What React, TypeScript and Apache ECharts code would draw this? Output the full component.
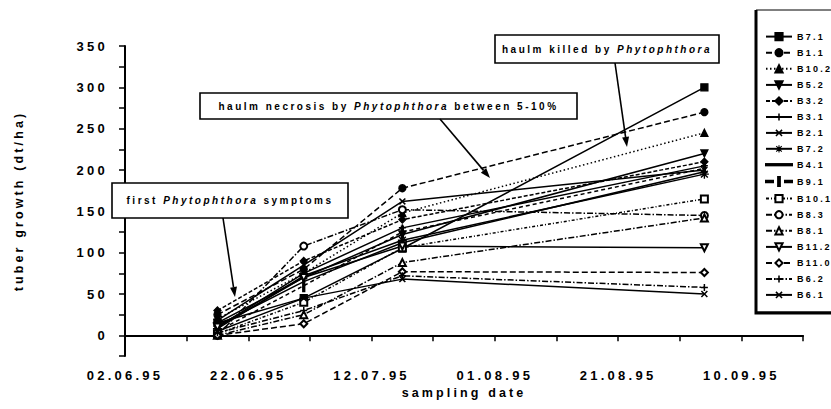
import React, { useEffect, useRef } from 'react';
import * as echarts from 'echarts';

// ---- tick labels / categories ----
const xTickLabels = ['02.06.95', '22.06.95', '12.07.95', '01.08.95', '21.08.95', '10.09.95'];
const samplingDates = ['17.06.95', '01.07.95', '17.07.95', '04.09.95'];

// ---- series values (dt/ha) at each sampling date ----
const b7_1 = [15, 45, 105, 300];
const b1_1 = [25, 80, 178, 270];
const b10_2 = [20, 75, 148, 245];
const b5_2 = [15, 70, 122, 220];
const b3_2 = [30, 90, 140, 210];
const b3_1 = [10, 75, 130, 205];
const b2_1 = [18, 85, 162, 200];
const b7_2 = [8, 72, 115, 195];
const b4_1 = [12, 65, 112, 198];
const b9_1 = [5, 60, 125, 202];
const b10_1 = [2, 40, 106, 165];
const b8_3 = [0, 108, 152, 145];
const b8_1 = [0, 25, 88, 142];
const b11_2 = [10, 70, 108, 106];
const b11_0 = [0, 14, 77, 76];
const b6_2 = [3, 30, 72, 58];
const b6_1 = [5, 45, 68, 50];

const PLUS = 'path://M3.15,0H4.85V3.15H8V4.85H4.85V8H3.15V4.85H0V3.15H3.15Z';
const CROSS = 'path://M0,1.2L1.2,0L4,2.8L6.8,0L8,1.2L5.2,4L8,6.8L6.8,8L4,5.2L1.2,8L0,6.8L2.8,4Z';
const STAR = 'path://M3.4,0H4.6V3.4H8V4.6H4.6V8H3.4V4.6H0V3.4H3.4ZM0.5,1.4L1.4,0.5L4,3.1L6.6,0.5L7.5,1.4L4.9,4L7.5,6.6L6.6,7.5L4,4.9L1.4,7.5L0.5,6.6L3.1,4Z';
const LINE_ICON = 'path://M0,0H30V1.5H0Z';
const BAR_ICON = 'path://M0,3.75H7V5.25H0ZM12.1,0H13.9V9H12.1ZM19,3.75H26V5.25H19Z';

const DASH = [6, 3];
const DOT = [1.5, 2.5];
const DASHDOT = [6, 2, 1.5, 2];
const DOTDASH = [3, 2, 1, 2];

const seriesDefs = [
  { name: 'B7.1', values: b7_1, symbol: 'rect', line: 'solid' as any },
  { name: 'B1.1', values: b1_1, symbol: 'circle', line: DASH },
  { name: 'B10.2', values: b10_2, symbol: 'triangle', line: DOT },
  { name: 'B5.2', values: b5_2, symbol: 'triangle', rotate: 180, line: 'solid' },
  { name: 'B3.2', values: b3_2, symbol: 'diamond', line: [4, 2] },
  { name: 'B3.1', values: b3_1, symbol: PLUS, path: true, line: 'solid' },
  { name: 'B2.1', values: b2_1, symbol: CROSS, path: true, line: 'solid' },
  { name: 'B7.2', values: b7_2, symbol: STAR, path: true, size: 9, line: 'solid' },
  { name: 'B4.1', values: b4_1, symbol: 'none', icon: LINE_ICON, line: 'solid' },
  { name: 'B9.1', values: b9_1, symbol: 'rect', size: [2, 8], icon: BAR_ICON, line: [4, 3] },
  { name: 'B10.1', values: b10_1, symbol: 'emptyRect', line: DOTDASH },
  { name: 'B8.3', values: b8_3, symbol: 'emptyCircle', line: DASHDOT },
  { name: 'B8.1', values: b8_1, symbol: 'emptyTriangle', line: DASHDOT },
  { name: 'B11.2', values: b11_2, symbol: 'emptyTriangle', rotate: 180, line: 'solid' },
  { name: 'B11.0', values: b11_0, symbol: 'emptyDiamond', line: DASH },
  { name: 'B6.2', values: b6_2, symbol: PLUS, path: true, line: DASHDOT },
  { name: 'B6.1', values: b6_1, symbol: CROSS, path: true, line: 'solid' },
];

const LS = 0.25; // letter spacing in em
const FONT = '"Liberation Sans", Arial, Helvetica, sans-serif';

function dayOf(s: string) {
  const [d, m, y] = s.split('.').map(Number);
  return Date.UTC(1900 + y, m - 1, d) / 86400000;
}
const origin = dayOf(xTickLabels[0]);
const sampleDays = samplingDates.map((s) => dayOf(s) - origin);

function arrow(x1: number, y1: number, x2: number, y2: number) {
  const dx = x2 - x1, dy = y2 - y1;
  const len = Math.sqrt(dx * dx + dy * dy);
  const ux = dx / len, uy = dy / len;
  const bx = x2 - ux * 10, by = y2 - uy * 10;
  const px = -uy * 3.5, py = ux * 3.5;
  return [
    { type: 'line', z: 100, shape: { x1, y1, x2: bx, y2: by }, style: { stroke: '#000', lineWidth: 1.6 } },
    { type: 'polygon', z: 100, shape: { points: [[x2, y2], [bx + px, by + py], [bx - px, by - py]] }, style: { fill: '#000' } },
  ];
}

function box(x: number, y: number, w: number, h: number, parts: string[]) {
  return [
    { type: 'rect', z: 100, shape: { x, y, width: w, height: h }, style: { fill: '#fff', stroke: '#000', lineWidth: 1.6 } },
    {
      type: 'text', z: 101, x: x + w / 2, y: y + h / 2,
      style: {
        text: parts[2] ? `{n|${parts[0]}}{i|${parts[1]}}{n|${parts[2]}}` : `{n|${parts[0]}}{i|${parts[1]}}`,
        align: 'center', verticalAlign: 'middle',
        rich: {
          n: { fontSize: 10, fontWeight: 'bold', fontFamily: FONT, fill: '#000' },
          i: { fontSize: 10, fontWeight: 'bold', fontFamily: FONT, fontStyle: 'italic', fill: '#000' },
        },
      },
    },
  ];
}

export default function App() {
  const ref = useRef<HTMLDivElement>(null);
  useEffect(() => {
    const canvas = document.createElement('canvas');
    const ctx = canvas.getContext('2d');
    const setApi = (echarts as any).setPlatformAPI;
    if (typeof setApi === 'function' && ctx) {
      setApi({
        measureText(text: string, font?: string) {
          ctx.font = font || '12px sans-serif';
          const w = ctx.measureText(text).width;
          if (text === '国') return { width: w };
          const m = /([\d.]+)px/.exec(font || '12px');
          const size = m ? parseFloat(m[1]) : 12;
          return { width: w + LS * size * text.length };
        },
      });
    }
    const chart = echarts.init(ref.current!, null, { renderer: 'svg' });
    const series = seriesDefs.map((d: any) => ({
      name: d.name,
      type: 'line',
      data: sampleDays.map((x, i) => [x, d.values[i]]),
      symbol: d.symbol,
      symbolSize: d.size || 7,
      symbolKeepAspect: true,
      symbolRotate: d.rotate || 0,
      showSymbol: d.symbol !== 'none',
      lineStyle: { color: '#000', width: 1.5, type: d.line },
      itemStyle: { color: '#000', borderColor: '#000', borderWidth: d.path ? 0 : 1.3 },
      emphasis: { disabled: true },
      z: 3,
    }));
    chart.setOption({
      animation: false,
      backgroundColor: '#fff',
      textStyle: { fontFamily: FONT, color: '#000' },
      grid: { left: 125, right: 28, top: 46, bottom: 53, containLabel: false, outerBoundsMode: 'none' },
      xAxis: {
        type: 'value', min: 0, max: 110, interval: 10,
        name: 'sampling date', nameLocation: 'middle', nameGap: 29,
        nameTextStyle: { fontSize: 12.5, fontWeight: 'bold', fontFamily: FONT, color: '#000' },
        axisLine: { lineStyle: { color: '#000', width: 2 } },
        axisTick: { length: 6, lineStyle: { color: '#000', width: 1.5 } },
        axisLabel: {
          margin: 13, fontSize: 13, fontWeight: 'bold', fontFamily: FONT, color: '#000',
          formatter: (v: number) => (v % 20 === 0 ? xTickLabels[v / 20] || '' : ''),
        },
        splitLine: { show: false },
      },
      yAxis: {
        type: 'value', min: -25, max: 350, interval: 25,
        name: 'tuber growth (dt/ha)', nameLocation: 'middle', nameGap: 100,
        nameTextStyle: { fontSize: 12.5, fontWeight: 'bold', fontFamily: FONT, color: '#000' },
        axisLine: { lineStyle: { color: '#000', width: 2 } },
        axisTick: { length: 6, lineStyle: { color: '#000', width: 1.5 } },
        axisLabel: {
          margin: 17, fontSize: 13, fontWeight: 'bold', fontFamily: FONT, color: '#000',
          formatter: (v: number) => (v >= 0 && v % 50 === 0 ? String(v) : ''),
        },
        splitLine: { show: false },
      },
      legend: {
        orient: 'vertical', left: 760, top: 27,
        itemWidth: 26, itemHeight: 9, itemGap: 6.9,
        symbolKeepAspect: true,
        textStyle: { fontSize: 9, fontWeight: 'bold', fontFamily: FONT, color: '#000' },
        data: seriesDefs.map((d: any) => (d.icon ? { name: d.name, icon: d.icon } : d.name)),
        selectedMode: false,
      },
      graphic: [
        { type: 'rect', z: 0, shape: { x: 756, y: 10, width: 90, height: 302 }, style: { fill: '#fff', stroke: '#000', lineWidth: 1 } },
        { type: 'polyline', z: 1, shape: { points: [[756, 10], [756, 313], [846, 313]] }, style: { stroke: '#000', lineWidth: 3, fill: null } },
        ...box(112, 183, 236, 35, ['first ', 'Phytophthora', ' symptoms']),
        ...arrow(223, 218, 235, 297),
        ...box(200, 93, 377, 26, ['haulm necrosis by ', 'Phytophthora', ' between 5-10%']),
        ...arrow(440, 119, 490, 178),
        ...box(495, 35, 224, 28, ['haulm killed by ', 'Phytophthora', '']),
        ...arrow(615, 63, 627, 147),
      ],
      series,
    });
    return () => chart.dispose();
  }, []);
  return (
    <>
      <style>{`#chart-el text { letter-spacing: ${LS}em; }`}</style>
      <div id="chart-el" ref={ref} style={{ width: 831, height: 409, position: 'absolute', left: 0, top: 0 }} />
    </>
  );
}
